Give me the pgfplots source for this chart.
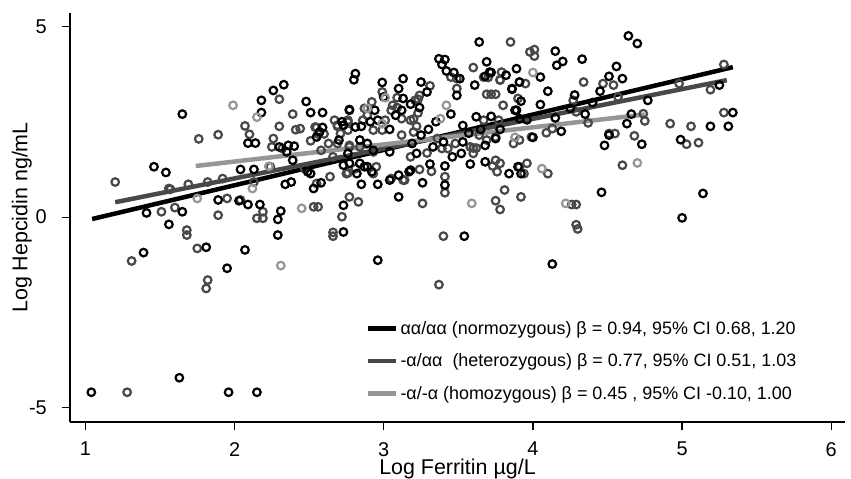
\documentclass[border=0pt]{standalone}
\usepackage{fontspec}
\setmainfont{Liberation Sans}
\usepackage{pgfplots}
\usepackage{pgfplotstable}
\pgfplotsset{compat=1.18}

\definecolor{darkg}{RGB}{72,72,72}
\definecolor{lightg}{RGB}{150,150,150}

% normozygous (aa/aa)
\pgfplotstableread{
x y
1.04 -4.59
1.63 -4.21
1.96 -4.59
2.15 -4.59
1.65 2.70
2.18 3.06
2.26 3.32
2.33 3.47
2.18 2.74
2.09 1.94
2.14 1.94
2.36 1.88
2.40 1.86
2.48 3.03
2.51 2.74
2.59 2.74
2.59 2.35
1.46 1.32
1.54 1.17
1.41 0.11
1.65 0.14
1.56 -0.19
1.89 0.45
2.03 0.43
2.09 0.33
2.04 1.25
2.13 1.25
2.17 0.33
2.29 -0.06
2.31 0.16
2.29 -0.47
2.34 0.86
2.38 0.92
2.53 0.75
2.58 0.90
2.49 1.19
1.39 -0.93
1.81 -0.79
2.07 -0.86
1.95 -1.34
2.73 0.31
2.73 -0.39
2.85 0.86
2.96 0.86
3.10 1.10
3.17 1.19
3.31 1.39
3.26 0.90
3.10 0.53
3.41 1.34
3.41 0.84
3.54 -0.50
2.96 -1.13
3.68 1.45
3.84 1.14
3.90 1.32
3.92 1.14
4.13 -1.23
4.46 0.65
5.14 0.62
5.00 -0.02
4.64 4.75
4.70 4.55
4.33 4.14
4.56 3.95
4.51 3.69
4.60 3.63
5.25 3.46
4.77 3.06
5.34 2.74
4.63 2.45
4.66 2.70
5.19 2.38
5.31 2.38
4.51 2.15
4.48 1.88
4.73 1.91
4.99 2.03
3.64 4.59
4.15 4.35
4.16 3.98
4.20 4.08
2.81 3.76
2.80 3.60
2.99 3.53
3.13 3.63
3.37 4.15
3.41 4.13
3.39 4.00
3.69 4.07
3.42 3.83
3.47 3.79
3.68 3.69
3.72 3.79
3.82 3.72
3.89 3.89
3.91 3.54
4.05 3.67
3.61 3.46
3.86 3.35
3.49 3.19
3.25 3.54
3.29 3.28
3.10 3.37
3.13 3.11
3.18 2.96
3.24 2.87
3.92 3.04
3.88 2.80
3.72 2.64
3.62 2.63
4.00 2.09
4.19 2.25
3.75 2.06
3.68 1.88
3.53 1.97
3.52 1.67
3.40 1.97
3.33 1.84
3.22 1.67
3.25 2.15
3.12 2.80
3.08 2.67
2.96 2.54
3.04 2.30
2.91 2.50
2.81 2.36
2.72 2.50
2.77 2.82
2.94 2.80
3.00 3.15
2.84 2.02
3.04 1.71
3.19 1.93
3.46 1.58
2.30 1.84
2.35 1.71
2.57 2.23
2.55 2.10
2.73 2.41
2.85 2.38
2.77 2.80
2.70 2.02
2.76 1.67
2.89 1.93
2.93 1.75
2.77 1.41
2.84 1.41
2.89 1.32
2.82 1.14
3.04 0.97
3.18 1.23
2.51 1.14
2.39 1.49
2.73 1.36
2.87 1.32
2.92 1.19
3.58 1.39
3.71 3.80
3.51 3.63
3.86 3.37
3.89 2.80
3.91 2.58
3.53 2.40
3.45 2.70
3.35 2.50
3.57 2.20
3.30 2.30
3.65 2.30
3.78 2.30
3.96 2.55
4.05 2.95
4.10 3.30
4.28 3.20
4.25 2.85
4.40 3.00
4.45 3.30
4.35 2.70
4.15 2.60
}\normo

% heterozygous (-a/aa)
\pgfplotstableread{
x y
1.28 -4.59
1.20 0.92
1.76 2.05
1.89 2.16
2.30 3.09
2.07 2.39
2.10 2.17
2.30 2.38
2.26 2.06
2.25 1.84
2.32 1.80
2.39 2.70
2.41 2.29
2.44 2.32
2.55 2.35
2.56 2.18
2.60 2.18
2.51 2.00
2.58 1.75
1.56 0.75
1.69 0.86
1.82 0.92
1.92 1.01
1.51 0.14
1.60 0.25
1.68 -0.34
1.68 -0.47
1.95 0.49
1.89 0.05
2.19 0.14
2.15 -0.03
2.19 -0.03
2.53 0.27
2.56 0.27
1.31 -1.15
1.75 -0.82
1.82 -1.65
1.81 -1.87
2.66 -0.40
2.77 0.53
2.83 0.40
2.72 0.01
2.66 -0.50
3.05 1.01
3.14 0.97
3.24 1.25
3.32 1.20
3.26 0.36
3.41 1.06
3.41 0.64
3.40 -0.50
3.37 -1.77
3.73 1.34
3.75 0.43
3.78 0.20
3.81 0.71
3.92 0.53
4.10 1.14
4.26 0.33
4.29 -0.20
4.60 1.36
4.29 0.33
4.30 -0.31
4.47 3.50
4.54 3.46
4.34 3.54
5.28 4.00
4.98 3.50
5.19 3.34
5.28 2.74
4.37 2.47
4.75 2.52
4.92 2.45
5.06 2.38
4.68 2.13
5.03 1.91
5.11 1.95
3.85 4.59
3.98 4.33
4.01 4.22
4.01 4.39
3.60 3.92
3.49 3.63
3.45 3.67
3.70 3.66
3.78 3.60
3.95 3.50
3.49 3.37
3.31 3.44
3.24 3.19
3.23 3.09
2.99 3.28
3.09 3.13
3.06 2.93
3.21 3.06
3.23 2.73
3.20 2.57
3.69 3.22
3.72 3.22
3.75 3.22
3.90 3.11
3.80 2.93
3.77 2.54
3.67 2.54
4.09 2.21
4.13 2.32
3.69 2.02
3.60 1.81
3.62 1.81
3.43 1.80
3.48 1.93
3.39 1.80
3.29 1.68
3.18 1.58
3.20 2.23
3.22 2.38
3.18 2.54
3.12 2.58
3.09 2.87
3.01 2.54
2.99 2.28
2.93 2.28
2.86 2.54
2.76 2.54
2.67 2.54
2.69 2.38
2.76 2.28
2.87 2.85
2.89 2.67
2.92 3.02
3.05 2.80
2.69 1.93
2.77 1.88
2.93 1.71
3.12 2.15
3.36 2.06
2.54 2.36
2.63 1.93
2.69 2.41
2.76 2.49
2.71 2.19
2.77 1.84
2.84 1.84
2.66 1.58
2.75 1.14
2.95 1.32
2.93 1.14
3.13 0.97
2.24 1.32
2.13 0.92
2.04 0.45
2.47 1.27
2.55 0.88
1.57 0.73
2.64 1.06
2.76 1.16
2.81 1.27
4.27 3.06
4.29 2.76
4.51 2.19
4.55 2.19
4.74 2.71
4.57 3.15
3.99 2.10
3.91 2.02
3.87 1.93
3.75 2.10
3.64 2.15
3.58 1.84
3.60 1.67
3.75 1.49
3.78 1.41
3.76 1.19
3.91 1.32
3.96 1.41
3.94 1.14
3.67 3.67
3.79 3.80
3.91 3.54
3.78 3.59
}\hetero

% homozygous (-a/-a)
\pgfplotstableread{
x y
1.99 2.93
2.15 2.62
1.75 0.49
2.12 0.75
2.23 1.33
2.45 0.23
2.31 -1.27
3.01 3.13
3.59 0.36
4.06 1.27
4.22 0.36
4.70 1.42
3.88 2.09
4.00 3.79
3.42 2.93
3.38 2.58
2.99 2.45
2.89 2.85
}\homo

\begin{document}
\begin{tikzpicture}
\useasboundingbox (-70bp,-57bp) rectangle (781bp,422bp);
\begin{axis}[
  at={(0,0)}, anchor=south west,
  scale only axis, width=775bp, height=409bp,
  xmin=0.897, xmax=6.092, ymin=-5.37, ymax=5.35,
  axis lines=left, axis line style={-, line width=1.2bp},
  tick align=outside, major tick length=8bp,
  tick style={line width=1.2bp, black},
  xtick={1,2,3,4,5,6}, xticklabels={1,2,3,4,5,6},
  ytick={-5,0,5}, yticklabels={-5,0,5},
  ticklabel style={font=\fontsize{20}{20}\selectfont, inner sep=0pt},
  xticklabel style={anchor=north, yshift=-12bp},
  yticklabel style={anchor=east, xshift=-15bp},
  xlabel={Log Ferritin µg/L},
  ylabel={Log Hepcidin ng/mL},
  label style={font=\fontsize{21.5}{21.5}\selectfont, inner sep=0pt},
  xlabel style={at={(axis description cs:0.5,0)}, anchor=north, yshift=-37bp},
  ylabel style={at={(axis description cs:-0.062,0.5)}, anchor=center},
  legend style={at={(axis cs:2.88,-2.67)}, anchor=north west, draw=none, fill=none,
    font=\fontsize{18}{18}\selectfont, row sep=14bp, inner sep=0pt},
  legend cell align=left,
  legend image code/.code={\draw[#1] (0bp,0bp) -- (18bp,0bp); \path (0bp,0bp) -- (28bp,0bp);},
  scatter mark/.style={only marks, mark=o, mark size=3.8bp, line width=2.2bp, forget plot},
]
\addplot[scatter mark, draw=darkg] table {\hetero};
\addplot[scatter mark, draw=black] table {\normo};
\addplot[scatter mark, draw=lightg] table {\homo};

\addplot[line width=4.5bp, black] coordinates {(1.045,-0.05) (5.34,3.93)};
\addlegendentry{αα/αα (normozygous) β = 0.94, 95\% CI 0.68, 1.20}
\addplot[line width=4.5bp, darkg] coordinates {(1.2,0.39) (5.30,3.59)};
\addlegendentry{-α/αα\ \ (heterozygous) β = 0.77, 95\% CI 0.51, 1.03}
\addplot[line width=4.5bp, lightg] coordinates {(1.74,1.34) (4.75,2.69)};
\addlegendentry{-α/-α (homozygous) β = 0.45 , 95\% CI -0.10, 1.00}
\end{axis}
\end{tikzpicture}
\end{document}
